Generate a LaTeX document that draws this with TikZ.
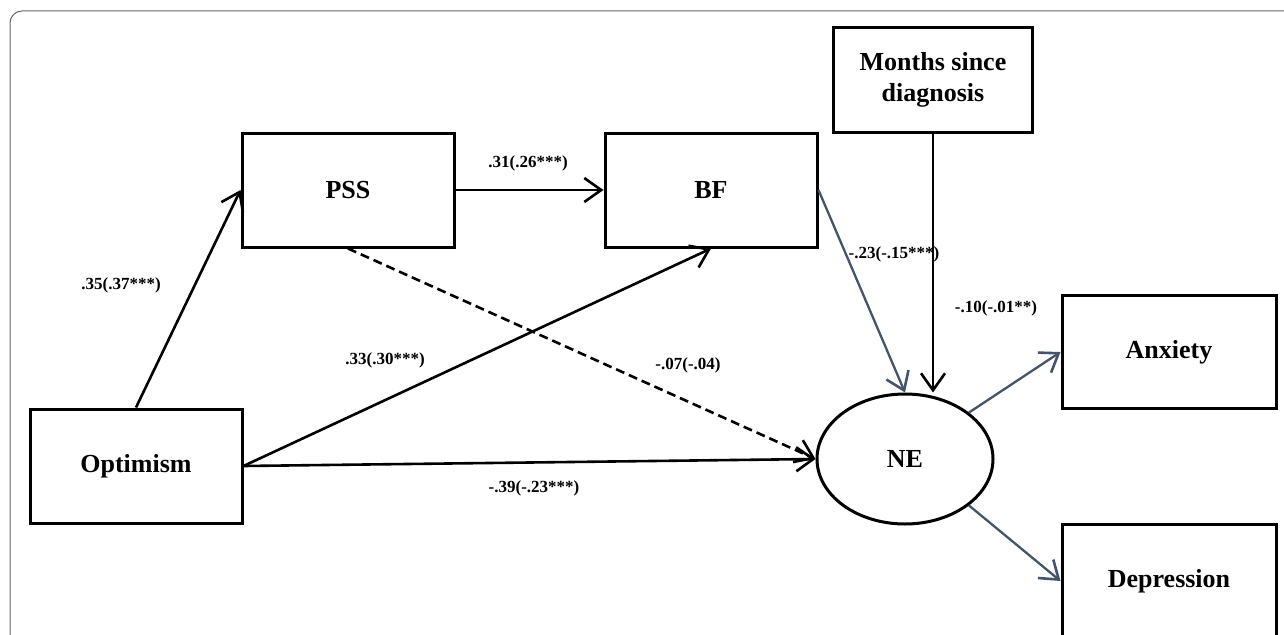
\documentclass[tikz,border=0pt]{standalone}
\usepackage{fontspec}
\setmainfont{Liberation Serif}
\usetikzlibrary{shapes.geometric,arrows.meta}
\definecolor{slate}{HTML}{44546A}
\begin{document}
\begin{tikzpicture}[x=1pt,y=-1pt,
  varbox/.style={draw,line width=3pt,inner sep=0pt,minimum width=212pt,minimum height=114pt,font=\bfseries\fontsize{26}{31}\selectfont},
  path/.style={line width=2.6pt,-{Straight Barb[length=17pt,width=24pt,line width=2.6pt]}},
  slatepath/.style={path,color=slate,line width=2.3pt},
  coef/.style={font=\bfseries\fontsize{17}{19}\selectfont}]
\clip (0,0) rectangle (1284,634);
\draw[gray!80!black,line width=1pt,rounded corners=12pt] (10,11) rectangle (1320,680);

\node (pss) at (348,190) [varbox] {PSS};
\node (bf) at (711,190) [varbox] {BF};
\node (mon) at (933,80) [varbox,minimum width=199pt,minimum height=105pt,align=center] {Months since\\diagnosis};
\node (opt) at (136,466) [varbox] {Optimism};
\node (ne) at (905,459) [draw,ellipse,line width=3pt,inner sep=0pt,minimum width=176pt,minimum height=130pt,font=\bfseries\fontsize{26}{28}\selectfont] {NE};
\node (anx) at (1169,352) [varbox,minimum width=214pt,minimum height=113pt] {Anxiety};
\node (dep) at (1169,581) [varbox,minimum width=214pt,minimum height=113pt] {Depression};

\draw[path] (opt.north) -- (pss.west);
\draw[path] (pss.east) -- (bf.west);
\draw[path] (opt.east) -- (bf.south);
\draw[path] (opt.east) -- (ne.west);
\draw[path,dashed,dash pattern=on 9pt off 5pt] (pss.south) -- (ne.west);
\draw[slatepath] (bf.east) -- (ne.north);
\draw[path] (mon.south) -- (mon.south |- ne.north);
\draw[slatepath] (ne.36) -- (anx.west);
\draw[slatepath] (ne.-36) -- (dep.west);

\node at (528,163) [coef] {.31(.26***)};
\node at (121,285) [coef] {.35(.37***)};
\node at (385,360) [coef] {.33(.30***)};
\node at (688,365) [coef] {-.07(-.04)};
\node at (534,488) [coef] {-.39(-.23***)};
\node at (894,254) [coef] {-.23(-.15***)};
\node at (996,308) [coef] {-.10(-.01**)};
\end{tikzpicture}
\end{document}
